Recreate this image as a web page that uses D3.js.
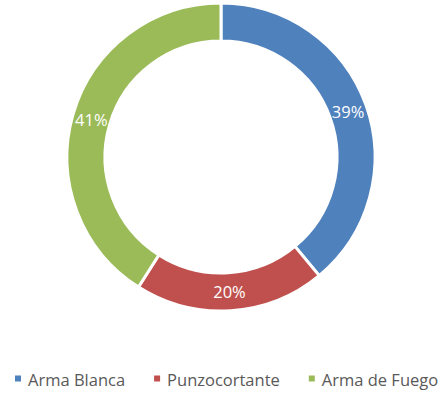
<!DOCTYPE html>
<html>
<head>
<meta charset="utf-8">
<script src="https://cdn.jsdelivr.net/npm/d3@7"></script>
<style>
  html, body { margin: 0; padding: 0; background: #fff; }
  svg { display: block; }
</style>
</head>
<body>
<svg id="chart" width="442" height="395"></svg>
<script>
const categories = ["Arma Blanca", "Punzocortante", "Arma de Fuego"];
const values = [39, 20, 41];
const colors = ["#4F81BD", "#C0504D", "#9BBB59"];

const svg = d3.select("#chart");
const cx = 221, cy = 157;
const outerR = 154, innerR = 116;

const data = categories.map((c, i) => ({ name: c, value: values[i], color: colors[i] }));
const pie = d3.pie().value(d => d.value).sort(null);
const arcs = pie(data);
const arc = d3.arc().innerRadius(innerR).outerRadius(outerR);
const labelArc = d3.arc().innerRadius((innerR + outerR) / 2).outerRadius((innerR + outerR) / 2);
const total = d3.sum(values);

const g = svg.append("g").attr("transform", `translate(${cx},${cy})`);
g.selectAll("path").data(arcs).join("path")
  .attr("d", arc)
  .attr("fill", d => d.data.color)
  .attr("stroke", "#fff")
  .attr("stroke-width", 3)
  .attr("stroke-linejoin", "miter");

g.selectAll("text").data(arcs).join("text")
  .attr("transform", d => `translate(${labelArc.centroid(d)})`)
  .attr("text-anchor", "middle")
  .attr("dominant-baseline", "central")
  .attr("fill", "#fff")
  .attr("font-family", "'Open Sans', sans-serif")
  .attr("font-size", 16.5)
  .text(d => Math.round(d.data.value / total * 100) + "%");

// Legend
const legend = svg.append("g");
const legendY = 379;
const startX = 15;
const gapAfter = 29;
let x = startX;
data.forEach((d, i) => {
  const item = legend.append("g");
  item.append("rect")
    .attr("x", x).attr("y", legendY - 3.5)
    .attr("width", 6).attr("height", 6)
    .attr("fill", d.color);
  const t = item.append("text")
    .attr("x", x + 13).attr("y", legendY)
    .attr("dominant-baseline", "central")
    .attr("fill", "#595959")
    .attr("font-family", "'Open Sans', sans-serif")
    .attr("font-size", 16.5)
    .text(d.name);
  const w = t.node().getComputedTextLength();
  x = x + 13 + w + gapAfter;
});
</script>
</body>
</html>
